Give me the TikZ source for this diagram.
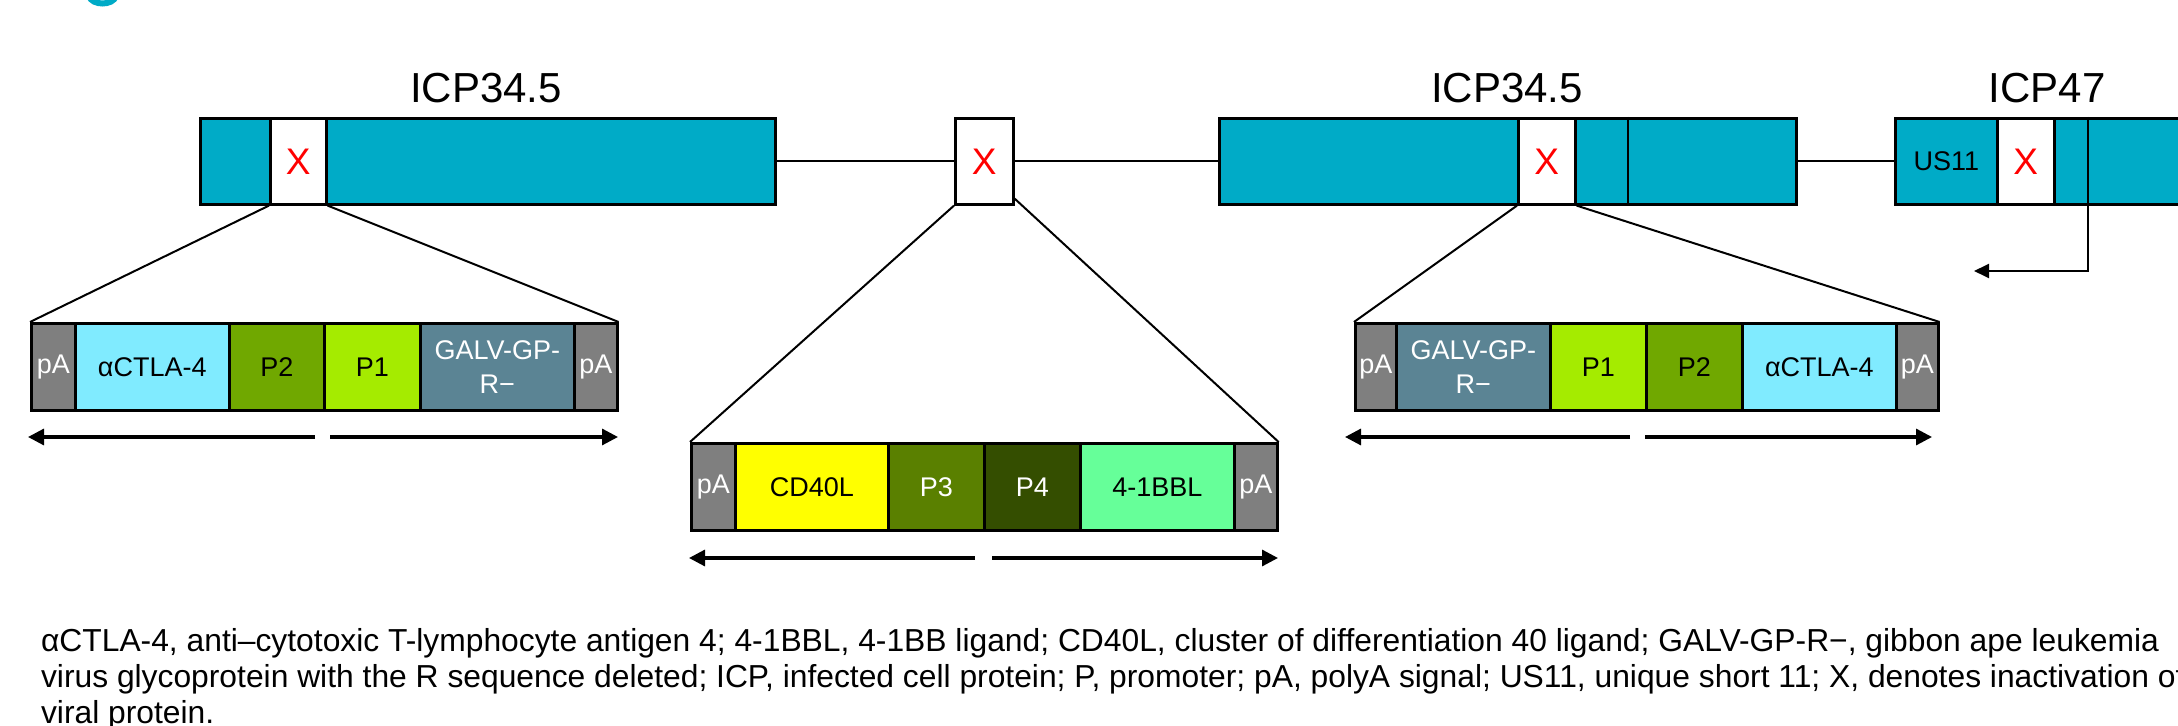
\documentclass[tikz,border=0pt]{standalone}
\usepackage{fontspec}
\setmainfont{Liberation Sans}
\usetikzlibrary{arrows.meta,calc}

\definecolor{genecol}{HTML}{00ABC7}
\definecolor{pAcol}{HTML}{7F7F7F}
\definecolor{ctlacol}{HTML}{80EBFF}
\definecolor{ptwocol}{HTML}{70A800}
\definecolor{ponecol}{HTML}{A5EB00}
\definecolor{galvcol}{HTML}{5B8494}
\definecolor{cdcol}{HTML}{FFFF00}
\definecolor{pthreecol}{HTML}{5A8000}
\definecolor{pfourcol}{HTML}{344E00}
\definecolor{bblcol}{HTML}{66FF99}
\definecolor{xred}{HTML}{FF0000}

\tikzset{
  gene/.style={draw, line width=1.3pt, fill=genecol, anchor=north west,
    inner sep=0pt, minimum height=43pt},
  xcell/.style={draw, line width=1.3pt, fill=white, anchor=north west,
    inner sep=0pt, minimum height=43pt, text=xred,
    font=\fontsize{18.5}{20}\selectfont},
  cell/.style={draw, line width=1.3pt, anchor=north west, inner sep=0pt,
    minimum height=43.5pt, align=center,
    font=\fontsize{13.5}{17}\selectfont},
  genelabel/.style={anchor=base, font=\fontsize{21}{24}\selectfont},
  link/.style={line width=1.2pt},
  spread/.style={line width=1pt},
  span/.style={line width=1.6pt, -{Triangle[length=8pt,width=8pt]}},
  capline/.style={anchor=base west, font=\fontsize{15.9}{19}\selectfont}
}

\begin{document}
\begin{tikzpicture}[x=0.5pt,y=-0.5pt]
\useasboundingbox (0,0) rectangle (2178,726);

% fragment of heading lettering
\draw[genecol, line width=3pt] (89,-4) .. controls (92,6) and (113,6) .. (116,-4);

% ---- gene row ----
\node[gene, minimum width=287.5pt] (g1) at (199,117) {};
\node[xcell, minimum width=28pt] (x1) at (269,117) {X};
\node[xcell, minimum width=29pt] (xm) at (954,117) {X};
\node[gene, minimum width=288.5pt] (g2) at (1218,117) {};
\node[xcell, minimum width=28.5pt] (x2) at (1517,117) {X};
\coordinate (d2t) at (1628,117);
\coordinate (d2b) at (1628,203);
\node[gene, minimum width=153pt] (g3) at (1894,117) {};
\node[gene, minimum width=51pt, font=\fontsize{13.5}{17}\selectfont] (us) at (1894,117) {US11};
\node[xcell, minimum width=28.5pt] (x3) at (1996,117) {X};
\coordinate (d3t) at (2088,117);
\coordinate (d3b) at (2088,203);
\coordinate (d3c) at (2088,271);
\coordinate (icp47p) at (1974,271);

\draw[line width=1.3pt] (d2t) -- (d2b);
\draw[line width=1.3pt] (d3t) -- (d3b);

\node[genelabel] (l1) at (486,103) {ICP34.5};
\node[genelabel] (l2) at (1507,103) {ICP34.5};
\node[genelabel] (l3) at (2047,103) {ICP47};

\draw[link] (g1.east) -- (xm.west);
\draw[link] (xm.east) -- (g2.west);
\draw[link] (g2.east) -- (g3.west);

\draw[line width=1pt, -{Triangle[length=7.5pt,width=7pt]}] (d3b) -- (d3c) -- (icp47p);

% ---- left cassette ----
\node[cell, fill=pAcol, text=white, minimum width=22pt] (a1) at (30,322) {pA};
\node[cell, fill=ctlacol, minimum width=77pt] (a2) at (74,322) {αCTLA-4};
\node[cell, fill=ptwocol, minimum width=47.5pt] (a3) at (228,322) {P2};
\node[cell, fill=ponecol, minimum width=48pt] (a4) at (323,322) {P1};
\node[cell, fill=galvcol, text=white, minimum width=77pt] (a5) at (419,322) {GALV-GP-\\R−};
\node[cell, fill=pAcol, text=white, minimum width=21.5pt] (a6) at (573,322) {pA};

% ---- middle cassette ----
\node[cell, fill=pAcol, text=white, minimum width=22pt] (b1) at (690,442) {pA};
\node[cell, fill=cdcol, minimum width=76.5pt] (b2) at (734,442) {CD40L};
\node[cell, fill=pthreecol, text=white, minimum width=48pt] (b3) at (887,442) {P3};
\node[cell, fill=pfourcol, text=white, minimum width=48pt] (b4) at (983,442) {P4};
\node[cell, fill=bblcol, minimum width=77pt] (b5) at (1079,442) {4-1BBL};
\node[cell, fill=pAcol, text=white, minimum width=21.5pt] (b6) at (1233,442) {pA};

% ---- right cassette ----
\node[cell, fill=pAcol, text=white, minimum width=20.5pt] (c1) at (1354,322) {pA};
\node[cell, fill=galvcol, text=white, minimum width=77pt] (c2) at (1395,322) {GALV-GP-\\R−};
\node[cell, fill=ponecol, minimum width=48pt] (c3) at (1549,322) {P1};
\node[cell, fill=ptwocol, minimum width=48pt] (c4) at (1645,322) {P2};
\node[cell, fill=ctlacol, minimum width=77pt] (c5) at (1741,322) {αCTLA-4};
\node[cell, fill=pAcol, text=white, minimum width=21pt] (c6) at (1895,322) {pA};

% ---- insertion fans ----
\draw[spread] (x1.south west) -- (a1.north west);
\draw[spread] (x1.south east) -- (a6.north east);
\draw[spread] (xm.south west) -- (b1.north west);
\draw[spread] ($(xm.south east)+(0,-7)$) -- (b6.north east);
\draw[spread] (x2.south west) -- (c1.north west);
\draw[spread] (x2.south east) -- (c6.north east);

% ---- transcription directions ----
\coordinate (a1s) at (315,437); \coordinate (a1e) at (28,437);
\coordinate (a2s) at (330,437); \coordinate (a2e) at (618,437);
\coordinate (b1s) at (975,558); \coordinate (b1e) at (689,558);
\coordinate (b2s) at (992,558); \coordinate (b2e) at (1278,558);
\coordinate (c1s) at (1630,437); \coordinate (c1e) at (1345,437);
\coordinate (c2s) at (1645,437); \coordinate (c2e) at (1932,437);
\draw[span] (a1s) -- (a1e);
\draw[span] (a2s) -- (a2e);
\draw[span] (b1s) -- (b1e);
\draw[span] (b2s) -- (b2e);
\draw[span] (c1s) -- (c1e);
\draw[span] (c2s) -- (c2e);

% ---- legend ----
\node[capline] (t1) at (34,651) {αCTLA-4, anti–cytotoxic T-lymphocyte antigen 4; 4-1BBL, 4-1BB ligand; CD40L, cluster of differentiation 40 ligand; GALV-GP-R−, gibbon ape leukemia};
\node[capline] (t2) at (34,687) {virus glycoprotein with the R sequence deleted; ICP, infected cell protein; P, promoter; pA, polyA signal; US11, unique short 11; X, denotes inactivation of};
\node[capline] (t3) at (34,723) {viral protein.};
\end{tikzpicture}
\end{document}
